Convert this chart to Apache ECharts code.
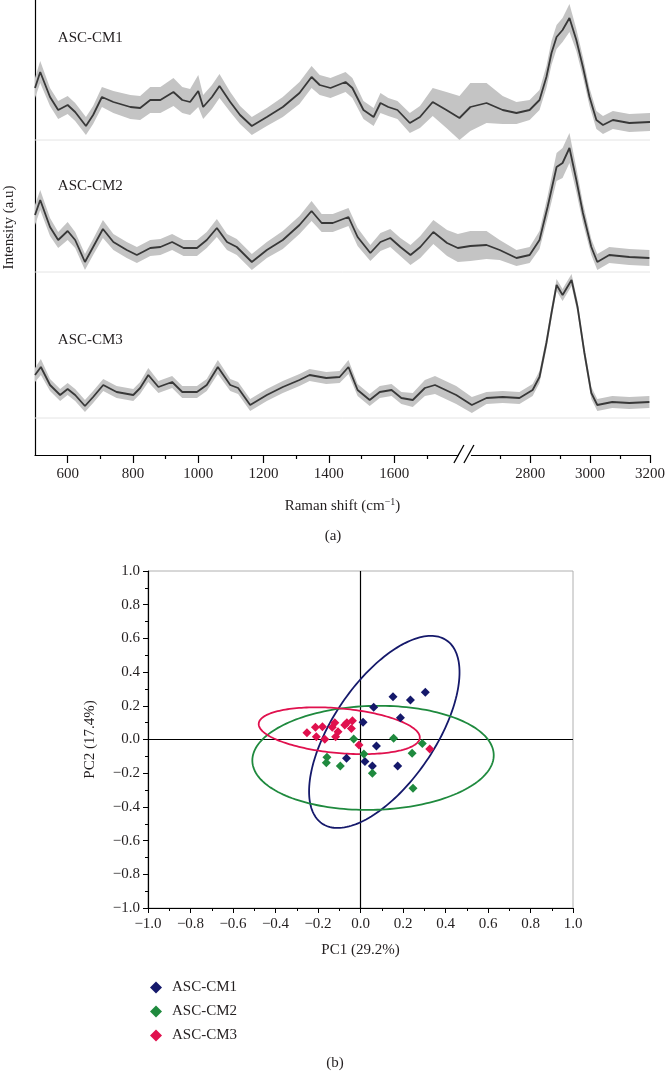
<!DOCTYPE html>
<html><head><meta charset="utf-8">
<script src="https://cdn.jsdelivr.net/npm/echarts@6.0.0/dist/echarts.min.js"></script>
<style>html,body{margin:0;padding:0;background:#fff}#c{width:666px;height:1075px}</style>
</head><body><div id="c"></div>
<script>
// ---------- (a) Raman spectra: wavenumber (cm-1), mean intensity, band half-width (a.u.) ----------
const cm1Wave = [500,516,546,571,600,623,656,678,705,740,792,822,853,884,924,951,975,1000,1015,1042,1065,1098,1128,1164,1210,1259,1310,1347,1372,1405,1451,1472,1506,1537,1558,1582,1610,1648,1679,1718,1760,1800,2600,2654,2708,2754,2798,2831,2854,2871,2888,2908,2931,2954,2976,2998,3021,3043,3076,3131,3200];
const cm1Mean = [52,68,43,30,35,28,14,25,43,38,33,32,40,40,48,40,38,49,33,43,54,38,25,14,23,33,47,63,55,52,58,52,30,23,37,33,30,17,23,38,30,22,33,37,30,27,30,40,63,87,103,110,122,100,73,43,20,15,20,17,18];
const cm1Band = [10,11,9,9,9,9,9,9,10,11,12,12,13,13,14,13,13,16,12,12,12,10,9,9,9,10,11,11,10,10,10,10,9,9,10,9,9,10,11,14,18,22,24,20,14,11,10,10,11,12,12,12,14,11,10,9,9,9,9,9,9];

const cm2Wave = [500,516,546,571,600,623,653,678,708,740,781,812,853,884,920,955,996,1026,1057,1088,1118,1164,1210,1259,1310,1347,1378,1412,1460,1488,1527,1558,1588,1619,1650,1680,1720,1762,1795,2600,2654,2698,2754,2798,2831,2858,2888,2908,2931,2954,2976,3004,3024,3064,3131,3198];
const cm2Mean = [57,72,45,32,41,32,10,25,43,30,22,17,24,25,30,24,24,32,44,30,25,10,22,32,47,61,49,49,55,35,19,30,34,25,17,25,40,29,24,26,27,22,14,17,32,65,105,109,124,92,59,25,10,17,15,14];
const cm2Band = [10,10,9,8,9,8,8,8,9,8,8,8,8,8,8,8,8,8,9,8,8,8,8,9,9,10,9,9,9,9,8,9,9,9,10,11,12,13,14,15,14,10,8,8,9,11,14,15,15,12,10,8,8,8,8,8];

const cm3Wave = [500,518,546,577,600,623,653,678,709,750,801,822,847,878,920,951,996,1026,1060,1098,1122,1159,1210,1259,1310,1341,1392,1433,1460,1488,1525,1556,1592,1622,1657,1694,1725,1790,2605,2654,2708,2764,2808,2831,2854,2871,2888,2908,2938,2958,2981,3004,3024,3074,3131,3198];
const cm3Mean = [43,51,33,23,29,23,12,21,33,26,23,30,43,31,36,26,26,33,51,33,30,13,23,31,38,43,40,41,51,28,18,26,28,20,18,30,33,23,13,20,21,20,28,41,75,105,133,123,138,111,65,25,13,16,15,16];
const cm3Band = [7,8,6,6,6,6,6,6,6,6,6,6,7,6,6,6,6,6,7,6,6,6,6,6,6,6,6,6,7,6,6,6,6,6,7,8,9,9,8,6,6,6,6,6,6,6,6,6,6,6,6,6,6,6,6,6];

const spectraNames = ['ASC-CM1','ASC-CM2','ASC-CM3'];
const ticksMajor = [600,800,1000,1200,1400,1600,2800,3000,3200];
const ticksMinor = [700,900,1100,1300,1500,1700,2700,2900,3100];

// ---------- (b) PCA scores ----------
const pcaCM1 = [[0.305,0.280],[0.153,0.254],[0.235,0.234],[0.062,0.191],[0.188,0.129],[0.012,0.102],[0.075,-0.039],[-0.066,-0.112],[0.021,-0.131],[0.056,-0.157],[0.175,-0.157]];
const pcaCM2 = [[-0.032,0.003],[0.156,0.007],[0.291,-0.023],[0.243,-0.082],[0.016,-0.086],[-0.158,-0.106],[-0.161,-0.138],[-0.095,-0.157],[0.056,-0.201],[0.247,-0.290]];
const pcaCM3 = [[-0.252,0.040],[-0.212,0.072],[-0.179,0.076],[-0.208,0.017],[-0.168,0.001],[-0.133,0.072],[-0.121,0.100],[-0.106,0.046],[-0.117,0.017],[-0.074,0.086],[-0.064,0.100],[-0.038,0.112],[-0.043,0.066],[-0.007,-0.033],[0.326,-0.056]];
// confidence ellipses: [centerX, centerY, sdX, sdY, correlation]
const ellCM1 = [0.112, 0.045, 0.354, 0.57, 0.62];
const ellCM2 = [0.059, -0.109, 0.568, 0.309, 0.05];
const ellCM3 = [-0.10, 0.052, 0.379, 0.139, -0.285];

const colCM1 = '#15196b', colCM2 = '#1f8a3e', colCM3 = '#e0114e';
const TXT = '#231f20';
const FONT = '"Liberation Serif", "DejaVu Serif", serif';

// broken axis mapping: 500-1800 at full scale, 2600-3200 slightly compressed
const RS = 0.917, U2700 = 1425;
function toU(w){ return w < 2200 ? (w - 500) : U2700 + (w - 2700) * RS; }
function fromU(u){ return u < 1360 ? u + 500 : 2700 + (u - U2700) / RS; }
const UMAX = toU(3200);

// vertical stacking offsets (axis units) for the three traces
const offsets = [315, 183, 37];

const waves = [cm1Wave, cm2Wave, cm3Wave];
const means = [cm1Mean, cm2Mean, cm3Mean];
const bands = [cm1Band, cm2Band, cm3Band];

const series = [];
for (let s = 0; s < 3; s++) {
  const w = waves[s], m = means[s], b = bands[s], off = offsets[s];
  series.push({
    type: 'line', xAxisIndex: 0, yAxisIndex: 0, silent: true, symbol: 'none',
    data: [[0, off], [UMAX, off]], lineStyle: { color: '#e4e4e4', width: 1 }, z: 1
  });
  series.push({
    type: 'custom', xAxisIndex: 0, yAxisIndex: 0, silent: true, z: 2,
    data: [[toU(w[0]), off]],
    renderItem: function (params, api) {
      const up = [], lo = [];
      for (let i = 0; i < w.length; i++) {
        up.push(api.coord([toU(w[i]), off + m[i] + b[i]]));
        lo.push(api.coord([toU(w[i]), off + m[i] - b[i]]));
      }
      return { type: 'polygon', shape: { points: up.concat(lo.reverse()) }, style: { fill: '#c4c4c4', stroke: null } };
    }
  });
  series.push({
    type: 'line', xAxisIndex: 0, yAxisIndex: 0, silent: true, symbol: 'none', z: 3,
    data: w.map((x, i) => [toU(x), off + m[i]]),
    lineStyle: { color: '#383838', width: 1.8 }
  });
}

// PCA zero lines
series.push({ type: 'line', xAxisIndex: 2, yAxisIndex: 1, silent: true, symbol: 'none', data: [[-1, 0], [1, 0]], lineStyle: { color: '#000', width: 1.2 }, z: 1 });
series.push({ type: 'line', xAxisIndex: 2, yAxisIndex: 1, silent: true, symbol: 'none', data: [[0, -1], [0, 1]], lineStyle: { color: '#000', width: 1.2 }, z: 1 });

function ellipseSeries(p, color) {
  return {
    type: 'custom', xAxisIndex: 2, yAxisIndex: 1, silent: true, z: 2,
    data: [[p[0], p[1]]],
    renderItem: function (params, api) {
      const pts = [];
      const k = Math.sqrt(1 - p[4] * p[4]);
      for (let i = 0; i < 180; i++) {
        const t = i / 180 * Math.PI * 2;
        pts.push(api.coord([p[0] + p[2] * Math.cos(t), p[1] + p[3] * (p[4] * Math.cos(t) + k * Math.sin(t))]));
      }
      return { type: 'polygon', shape: { points: pts }, style: { fill: 'none', stroke: color, lineWidth: 1.8 } };
    }
  };
}
series.push(ellipseSeries(ellCM1, colCM1));
series.push(ellipseSeries(ellCM2, colCM2));
series.push(ellipseSeries(ellCM3, colCM3));

const pcaData = [pcaCM1, pcaCM2, pcaCM3];
const pcaCols = [colCM1, colCM2, colCM3];
for (let s = 0; s < 3; s++) {
  series.push({
    name: spectraNames[s], type: 'scatter', xAxisIndex: 2, yAxisIndex: 1, z: 4,
    symbol: 'diamond', symbolSize: 9, data: pcaData[s], itemStyle: { color: pcaCols[s], opacity: 1 }
  });
}

function fmt1(v) { if (Math.abs(v) < 1e-9) return '0.0'; return (v < 0 ? '\u2212' : '') + Math.abs(v).toFixed(1); }

const lblStyle = { color: TXT, fontFamily: FONT, fontSize: 15 };

const option = {
  animation: false,
  backgroundColor: '#fff',
  grid: [
    { left: 35, right: 16, top: 0, height: 455, containLabel: false, outerBoundsMode: 'none' },
    { left: 148, right: 93, top: 571, bottom: 167, containLabel: false, outerBoundsMode: 'none', show: true, borderColor: '#b0b0b0', borderWidth: 1 }
  ],
  xAxis: [
    { type: 'value', gridIndex: 0, min: 0, max: UMAX, position: 'bottom',
      axisLine: { lineStyle: { color: '#000', width: 1.2 } },
      axisTick: { show: true, inside: false, length: 8, customValues: ticksMajor.map(toU), lineStyle: { color: '#000', width: 1.2 } },
      axisLabel: Object.assign({ customValues: ticksMajor.map(toU), margin: 12, formatter: v => String(Math.round(fromU(v))) }, lblStyle),
      splitLine: { show: false },
      name: 'Raman shift (cm{sup|\u22121})', nameLocation: 'middle', nameGap: 42,
      nameTextStyle: { color: TXT, fontFamily: FONT, fontSize: 15, rich: { sup: { fontSize: 10, verticalAlign: 'top', padding: [0, 0, 8, 0], color: TXT, fontFamily: FONT } } }
    },
    { type: 'value', gridIndex: 0, min: 0, max: UMAX, position: 'bottom',
      axisLine: { show: false },
      axisTick: { show: true, length: 4, customValues: ticksMinor.map(toU), lineStyle: { color: '#000', width: 1.2 } },
      axisLabel: { show: false }, splitLine: { show: false }
    },
    { type: 'value', gridIndex: 1, min: -1, max: 1, interval: 0.2,
      axisLine: { onZero: false, lineStyle: { color: '#000', width: 1.2 } },
      axisTick: { show: true, length: 5, lineStyle: { color: '#000' } },
      minorTick: { show: true, splitNumber: 2, length: 3, lineStyle: { color: '#000' } },
      axisLabel: Object.assign({ margin: 9, formatter: fmt1 }, lblStyle),
      splitLine: { show: false },
      name: 'PC1 (29.2%)', nameLocation: 'middle', nameGap: 35, nameTextStyle: lblStyle
    }
  ],
  yAxis: [
    { type: 'value', gridIndex: 0, min: 0, max: 455,
      axisLine: { show: true, lineStyle: { color: '#000', width: 1.2 } },
      axisTick: { show: false }, axisLabel: { show: false }, splitLine: { show: false },
      name: 'Intensity (a.u)', nameLocation: 'middle', nameGap: 18, nameTextStyle: lblStyle
    },
    { type: 'value', gridIndex: 1, min: -1, max: 1, interval: 0.2,
      axisLine: { onZero: false, lineStyle: { color: '#000', width: 1.2 } },
      axisTick: { show: true, length: 5, lineStyle: { color: '#000' } },
      minorTick: { show: true, splitNumber: 2, length: 3, lineStyle: { color: '#000' } },
      axisLabel: Object.assign({ margin: 8, formatter: fmt1 }, lblStyle),
      splitLine: { show: false },
      name: 'PC2 (17.4%)', nameLocation: 'middle', nameGap: 50, nameTextStyle: lblStyle
    }
  ],
  legend: {
    data: spectraNames, orient: 'vertical', left: 145, top: 975,
    itemWidth: 12, itemHeight: 12, itemGap: 9, icon: 'diamond',
    textStyle: { color: TXT, fontFamily: FONT, fontSize: 15, padding: [0, 0, 0, 5] }
  },
  series: series
};

const chart = echarts.init(document.getElementById('c'), null, { renderer: 'canvas' });
chart.setOption(option);

// annotations placed from the axes
const g = [];
const labelPos = [[toU(570), offsets[0] + 102], [toU(570), offsets[1] + 86], [toU(570), offsets[2] + 78]];
for (let s = 0; s < 3; s++) {
  const p = chart.convertToPixel({ xAxisIndex: 0, yAxisIndex: 0 }, labelPos[s]);
  g.push({ type: 'text', x: p[0], y: p[1], style: { text: spectraNames[s], fill: TXT, font: '15px ' + FONT, verticalAlign: 'middle' } });
}
const bu = (toU(1800) + toU(2600)) / 2;
const bp = chart.convertToPixel({ xAxisIndex: 0, yAxisIndex: 0 }, [bu, 0]);
g.push({ type: 'rect', shape: { x: bp[0] - 6, y: bp[1] - 3, width: 12, height: 6 }, style: { fill: '#fff' }, z: 100 });
g.push({ type: 'line', shape: { x1: bp[0] - 11, y1: bp[1] + 8, x2: bp[0] - 1, y2: bp[1] - 10 }, style: { stroke: '#000', lineWidth: 1.3 }, z: 101 });
g.push({ type: 'line', shape: { x1: bp[0] - 1, y1: bp[1] + 8, x2: bp[0] + 9, y2: bp[1] - 10 }, style: { stroke: '#000', lineWidth: 1.3 }, z: 101 });
g.push({ type: 'text', x: 333, y: 536, style: { text: '(a)', fill: TXT, font: '15px ' + FONT, align: 'center', verticalAlign: 'middle' } });
g.push({ type: 'text', x: 335, y: 1063, style: { text: '(b)', fill: TXT, font: '15px ' + FONT, align: 'center', verticalAlign: 'middle' } });
chart.setOption({ graphic: g });
</script>
</body></html>
